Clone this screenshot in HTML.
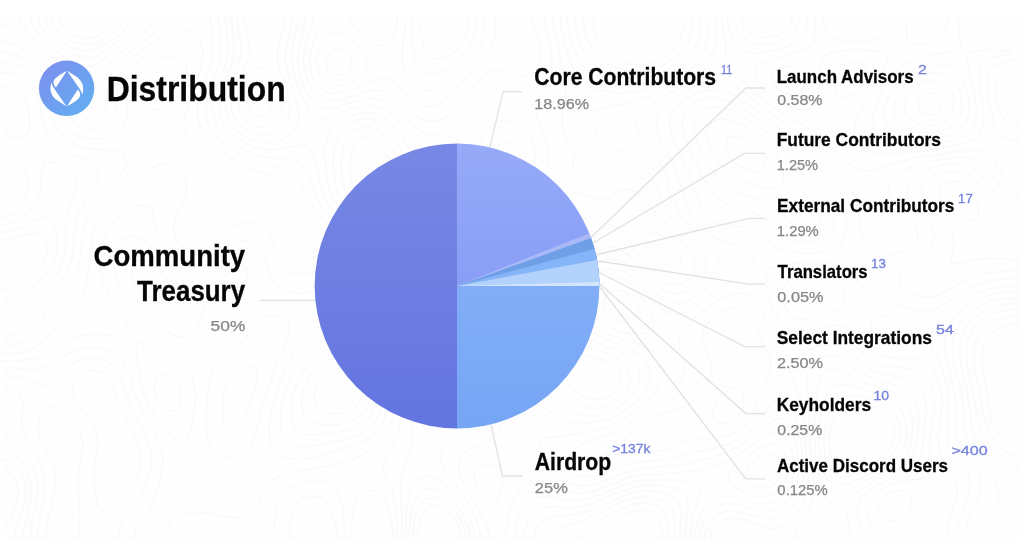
<!DOCTYPE html>
<html lang="en">
<head>
<meta charset="utf-8">
<title>Distribution</title>
<style>
html,body{margin:0;padding:0;background:#fff;}
body{width:1024px;height:553px;overflow:hidden;position:relative;font-family:"Liberation Sans",sans-serif;}
svg{position:absolute;left:0;top:0;display:block;}
text{font-family:"Liberation Sans",sans-serif;}
.b{font-weight:700;fill:#060606;stroke:#060606;stroke-width:0.3;}
.p{font-weight:400;fill:#878787;stroke:#878787;stroke-width:0.25;font-size:14px;}
.s{font-weight:400;fill:#7583dc;stroke:#7583dc;stroke-width:0.3;font-size:12px;}
.l{fill:none;stroke:#e2e2e2;stroke-width:1.3;}
.t{fill:none;stroke:#f4f4f4;stroke-width:1.2;}
</style>
</head>
<body>
<svg width="1024" height="553" viewBox="0 0 1024 553">
<defs>
<linearGradient id="gT" x1="0" y1="0" x2="0" y2="1"><stop offset="0" stop-color="#7788e4"/><stop offset="1" stop-color="#6474e0"/></linearGradient>
<linearGradient id="gA" x1="0" y1="0" x2="0" y2="1"><stop offset="0" stop-color="#82aef7"/><stop offset="1" stop-color="#76a5f5"/></linearGradient>
<linearGradient id="gC" x1="0" y1="0" x2="0" y2="1"><stop offset="0" stop-color="#96aaf8"/><stop offset="1" stop-color="#889ef5"/></linearGradient>
<linearGradient id="gL" x1="0" y1="0" x2="1" y2="1"><stop offset="0" stop-color="#7f8cee"/><stop offset="1" stop-color="#5fb2f2"/></linearGradient>
</defs>
<rect width="1024" height="553" fill="#ffffff"/>
<rect x="3" y="15" width="1018" height="525" fill="#fefefe"/>

<!-- faint topo background -->
<g id="topo" fill="none" stroke="#f8f8f8" stroke-width="1" stroke-linejoin="round">
<polyline points="593,15 594,27 596,35 600,43 606,51 612,56 620,61 628,64 640,65 652,63 660,60 668,55 672,51 678,43 681,35 684,23"/>
<polyline points="934,115 940,111 942,99 936,93 924,94 919,99 919,111 926,115 934,115"/>
<polyline points="1020,324 1008,325 1000,328 992,333 987,339 983,347 982,359 983,371 985,379 987,391 988,399 990,411 992,422 996,431 1000,437 1006,443 1013,447"/>
<polyline points="663,539 661,527 658,519 652,513 644,510 634,511 624,514 616,518 609,523 604,527 597,535"/>
<polyline points="58,15 60,23 66,31 72,35 84,39 96,37 104,33 111,27 116,20"/>
<polyline points="583,15 584,25 586,35 589,43 594,51 600,58 607,63 614,67 624,70 632,72 644,71 652,69 660,67 668,63 676,57 682,51 688,43 691,35 692,27 693,15"/>
<polyline points="942,123 948,119 953,111 954,99 951,91 944,84 936,81 924,82 916,86 911,91 906,99 905,111 910,119 916,123 928,126 940,124"/>
<polyline points="267,115 272,108 272,99 269,91 264,86 255,87 249,95 247,103 250,111 256,116 267,115"/>
<polyline points="388,199 392,193 394,183 392,171 390,163 386,155 381,147 376,141 368,137 360,139 354,147 351,155 350,167 351,179 353,187 359,195 364,199 376,203 388,199"/>
<polyline points="1020,316 1008,317 999,319 990,323 984,328 979,335 975,343 974,355 974,367 976,375 979,387 980,395 982,407 984,417 987,427 990,435 996,443 1000,448 1008,453 1016,456"/>
<polyline points="0,533 5,527 11,519 14,511 17,503 19,491 16,480 12,474 4,469"/>
<polyline points="669,539 669,527 667,519 663,511 656,505 646,503 640,503 628,506 620,509 612,513 604,518 596,523 589,527 584,531 577,539"/>
<polyline points="461,539 460,531 456,521 452,515 444,508 436,505 428,507 422,515 419,523 417,535"/>
<polyline points="51,15 53,23 58,31 64,37 72,42 80,44 92,44 100,41 108,37 115,31 120,26 124,17"/>
<polyline points="575,15 576,27 577,35 580,43 584,52 589,59 596,66 604,71 612,74 620,77 632,78 644,77 654,75 664,71 672,67 678,63 684,59 692,51 696,46 700,35 701,27 701,15"/>
<polyline points="267,127 275,123 280,116 282,107 281,95 278,87 274,79 269,71 260,67 252,74 248,79 243,87 239,95 238,107 241,115 248,123 256,127 264,128"/>
<polyline points="941,131 950,127 956,123 961,115 962,103 960,92 956,84 952,79 944,74 932,72 920,75 912,79 907,83 900,91 896,99 894,107 896,117 900,123 908,129 916,132 928,133 940,131"/>
<polyline points="387,211 395,207 400,201 403,191 403,179 400,167 397,159 394,151 389,143 384,136 379,131 370,127 362,127 353,131 348,137 344,145 342,155 341,167 342,179 344,187 348,195 355,203 360,207 371,211 380,212"/>
<polyline points="558,247 564,242 568,233 568,227 563,219 552,216 542,219 536,225 535,235 538,243 544,248 556,248"/>
<polyline points="1020,309 1008,310 1000,312 990,315 983,319 976,325 972,331 968,341 966,351 967,363 968,371 971,383 973,391 975,403 976,411 979,423 981,431 985,439 990,447 996,454 1003,459 1009,463 1020,466"/>
<polyline points="14,539 16,529 19,519 22,511 24,503 25,491 24,481 20,472 16,467 8,461 0,459"/>
<polyline points="466,539 464,529 460,519 456,512 452,507 444,500 436,497 425,499 420,505 416,515 414,523 413,535"/>
<polyline points="675,539 675,527 674,515 671,507 664,501 656,498 644,497 632,498 624,501 616,505 608,509 600,513 592,517 584,520 575,523 564,526 556,528 548,535"/>
<polyline points="45,15 48,26 52,32 59,39 64,43 72,48 84,51 96,49 104,45 112,40 119,35 124,30 129,23"/>
<polyline points="244,15 245,23 247,35 249,43 250,55 247,63 243,71 239,79 235,87 232,97 231,107 233,115 238,123 244,129 252,133 260,135 270,135 279,131 284,127 289,119 290,107 288,95 286,87 283,79 280,70 277,59 278,47 280,39 284,27 285,19"/>
<polyline points="567,15 568,25 570,35 572,43 576,54 580,62 584,67 592,74 600,79 608,82 616,84 628,85 640,84 648,83 659,79 668,75 676,71 683,67 689,63 696,58 703,51 707,43 708,35 709,23"/>
<polyline points="929,139 940,137 949,135 957,131 964,125 968,118 969,107 968,95 966,87 962,79 957,71 952,67 940,64 928,64 918,67 910,71 904,75 897,83 892,90 888,97 885,107 885,119 889,127 896,133 904,136 916,139 924,139"/>
<polyline points="390,219 400,215 404,211 409,203 412,195 413,183 412,175 408,164 404,155 400,147 396,141 392,135 385,127 380,123 372,119 361,119 352,122 345,127 340,133 336,142 334,151 333,163 334,175 336,187 339,195 344,202 348,207 356,213 364,216 374,219 384,220"/>
<polyline points="553,351 552,340 551,331 549,319 548,311 546,299 544,288 544,283 549,275 556,269 563,263 568,258 574,251 579,243 582,235 584,227 583,219 578,211 572,207 560,203 548,204 540,207 532,211 525,219 521,227 521,239 524,249 528,258 532,267 534,275 528,283 523,287 516,292 508,299 504,305 500,315 502,327 506,335 512,343 517,347 525,351 536,354 548,354"/>
<polyline points="679,271 682,263 680,255 674,247 668,241 661,235 652,232 645,239 648,251 652,258 656,263 664,270 672,273"/>
<polyline points="429,339 436,332 440,326 444,316 444,307 440,300 432,295 427,295 418,299 412,307 410,315 411,327 415,335 420,340 429,339"/>
<polyline points="1020,303 1008,304 996,306 988,309 980,313 972,319 968,324 964,331 960,343 960,351 960,359 962,371 964,379 967,391 968,399 970,411 971,423 973,431 976,439 981,447 987,455 992,460 999,467 1004,471 1012,476"/>
<polyline points="603,399 612,395 617,391 621,383 620,373 616,367 608,362 600,359 588,356 576,355 564,356 560,363 562,371 566,379 571,387 576,392 584,397 592,400 603,399"/>
<polyline points="22,539 24,528 26,519 28,511 31,499 31,487 29,475 25,467 20,460 14,455 7,451"/>
<polyline points="470,539 468,527 465,519 461,511 456,504 452,499 444,492 436,488 424,489 418,495 414,503 412,511 410,523 409,535"/>
<polyline points="680,539 680,531 681,519 680,508 676,499 670,495 660,492 652,491 642,491 632,493 624,495 616,499 607,503 599,507 589,511 580,514 572,515 560,516 548,518 540,522 536,528 533,539"/>
<polyline points="38,15 40,24 44,31 51,39 56,44 64,50 72,54 80,57 92,57 100,54 108,49 116,43 122,39 128,33 133,27 137,19"/>
<polyline points="237,15 238,27 240,37 241,47 240,59 238,67 234,75 230,83 227,91 225,103 227,115 230,123 236,130 242,135 250,139 260,142 272,142 283,139 290,135 296,128 299,119 298,107 296,99 292,87 289,79 287,71 285,59 286,47 288,39 291,27 292,19"/>
<polyline points="560,15 561,27 564,39 566,47 568,55 572,66 576,74 580,79 588,85 596,89 605,91 616,93 628,93 640,91 648,89 656,86 664,83 672,79 680,75 688,71 696,66 704,61 711,55 715,47 716,39 716,31 715,19"/>
<polyline points="823,15 824,24 828,33 836,39 844,41 856,41 868,41 876,39 885,35 892,27 895,19"/>
<polyline points="958,15 959,27 960,37 962,47 956,52 944,53 932,55 924,56 914,59 906,63 900,67 893,75 888,81 884,88 880,95 876,104 873,115 874,127 879,135 884,139 895,143 904,145 916,145 928,145 940,143 948,141 956,139 965,135 972,128 976,119 976,111 976,103 974,91 972,83 969,71 967,63 968,52 976,51 988,50 1000,50 1012,50"/>
<polyline points="794,95 802,91 805,83 804,74 798,67 788,66 780,68 772,75 772,80 776,87 784,93 792,95"/>
<polyline points="389,227 400,225 408,220 413,215 417,207 420,199 423,187 422,175 420,167 416,159 411,151 406,143 401,135 396,129 391,123 384,117 376,113 364,112 352,115 344,119 338,123 332,128 328,135 325,147 325,159 326,171 328,183 330,191 333,199 339,207 344,212 352,218 360,222 368,224 380,227 388,227"/>
<polyline points="437,419 444,415 447,403 444,394 440,383 438,375 438,363 441,355 445,347 450,339 456,331 460,326 468,320 472,319 480,324 485,331 491,339 496,346 500,351 508,358 515,363 523,367 532,370 540,374 548,379 552,383 560,391 564,395 572,401 580,406 588,408 600,408 608,405 616,401 624,395 628,389 631,379 628,368 624,363 616,358 608,354 600,351 589,347 580,344 572,339 568,334 564,327 561,315 560,307 560,298 562,287 566,279 571,271 576,264 580,259 586,251 592,243 596,237 601,231 608,224 618,227 624,233 628,239 633,247 639,255 644,262 648,267 656,275 660,279 668,284 680,285 688,280 693,275 695,263 692,255 686,247 680,240 676,235 668,227 664,222 657,215 652,209 647,203 640,195 635,191 624,189 616,193 608,199 601,199 592,197 584,194 572,192 560,192 548,194 540,197 532,201 524,206 519,211 513,219 510,227 509,239 511,251 511,263 508,273 503,279 496,286 490,291 484,296 476,301 468,299 460,293 452,287 445,283 436,280 424,280 416,284 409,291 404,298 400,307 398,315 399,327 402,335 406,343 410,351 413,359 417,367 419,379 420,388 421,399 424,411 428,417 436,419"/>
<polyline points="1020,298 1008,298 1000,299 988,302 980,306 972,311 967,315 960,323 956,330 953,339 953,351 954,363 956,371 959,383 961,391 963,403 963,415 964,424 966,435 969,443 974,451 980,459 984,464 989,471 994,479 998,487 999,499 992,507 988,511 981,519 977,527 975,535"/>
<polyline points="30,539 31,527 33,519 35,507 37,499 38,487 36,475 33,467 29,459 24,453 19,447 12,441 4,436"/>
<polyline points="770,487 776,483 780,475 780,463 776,456 768,454 760,457 752,463 748,467 745,479 752,486 760,488 770,487"/>
<polyline points="475,539 473,527 470,519 467,511 462,503 456,496 452,491 444,483 438,479 428,475 417,479 412,486 409,495 408,503 406,515 406,527 405,539"/>
<polyline points="685,539 686,527 687,515 688,507 687,499 681,491 672,487 664,486 652,485 640,486 632,488 622,491 612,495 604,499 596,502 588,505 578,507 568,508 558,507 548,507 540,508 532,514 528,520 525,531 524,539"/>
<polyline points="30,15 32,23 36,31 43,39 48,44 56,51 62,55 68,60 76,64 84,67 92,66 100,62 108,56 114,51 120,46 128,40 134,35 140,28 144,21"/>
<polyline points="231,15 232,26 233,35 234,47 233,59 231,67 228,75 224,84 220,95 219,103 220,114 223,123 228,130 233,135 240,140 248,145 256,148 268,150 280,149 291,147 300,145 309,147 313,155 316,165 318,175 320,184 324,195 328,203 332,209 338,215 344,220 352,225 360,229 368,231 380,234 388,235 400,235 408,233 416,227 420,222 424,214 428,206 432,196 435,187 437,179 438,167 434,159 428,153 422,147 416,141 410,135 404,128 400,123 392,115 388,111 380,107 368,105 356,107 348,110 340,113 332,117 324,119 316,119 309,111 305,103 301,95 298,87 295,79 293,67 292,59 292,51 294,39 296,31 299,19"/>
<polyline points="553,15 554,27 556,37 558,47 560,56 562,67 564,77 565,87 566,99 564,107 562,119 563,131 566,139 570,147 574,155 573,167 568,172 560,177 552,182 544,186 536,190 528,195 521,199 515,203 508,209 503,215 499,223 497,235 497,247 496,255 492,265 486,271 477,275 468,275 460,274 452,271 440,267 432,265 420,267 413,271 408,276 403,283 397,291 393,299 390,307 389,319 392,331 395,339 398,347 402,355 404,363 407,375 408,384 409,395 409,407 410,419 412,431 412,439 412,448 408,459 404,467 402,475 401,487 401,499 402,511 402,523 402,535"/>
<polyline points="481,539 480,531 476,519 472,511 468,503 464,497 460,491 454,483 448,475 444,469 440,460 440,453 444,446 452,440 460,435 467,431 473,427 479,419 481,411 480,403 475,395 468,388 464,383 459,375 458,363 460,355 468,349 478,351 484,357 489,363 496,370 502,375 511,379 520,382 528,384 536,387 544,392 552,398 558,403 564,407 572,412 582,415 592,416 600,415 612,411 619,407 625,403 632,396 636,391 640,381 640,372 636,364 631,359 624,354 616,350 608,347 598,343 590,339 583,335 576,328 572,320 570,311 570,299 572,289 576,279 580,273 584,267 591,259 596,254 604,248 612,247 620,249 628,255 632,259 639,267 644,272 651,279 656,284 664,291 672,294 684,293 692,289 699,283 704,276 707,267 704,257 700,251 693,243 688,237 682,231 676,223 672,218 668,211 663,203 660,195 656,186 652,177 648,171 640,163 635,159 628,155 619,151 610,147 604,143 597,135 593,127 590,119 595,111 604,108 612,106 624,104 632,102 642,99 652,95 660,91 668,87 676,83 684,79 692,75 700,71 708,68 716,64 724,59 726,51 725,39 723,31 722,19"/>
<polyline points="815,15 815,27 814,39 810,47 801,51 792,54 784,56 772,59 764,62 756,67 754,75 758,83 764,90 769,95 776,100 784,105 792,108 804,111 813,107 817,99 819,87 820,75 820,67 824,56 832,52 840,51 852,50 864,50 876,51 884,52 888,59 885,67 881,75 877,83 872,91 868,98 864,105 860,112 856,121 854,131 856,140 862,147 870,151 880,153 892,153 904,153 916,152 924,151 936,149 948,147 956,145 965,143 976,139 980,135 984,123 983,111 982,99 980,89 979,79 980,67 984,62 992,58 1004,55 1012,55"/>
<polyline points="948,15 947,27 944,35 936,41 928,44 916,45 908,43 906,31 907,19"/>
<polyline points="1020,292 1008,292 996,294 988,296 979,299 972,303 964,308 957,315 952,321 948,328 944,339 945,351 948,363 950,371 952,380 954,391 956,403 956,411 956,419 956,430 957,439 961,447 966,455 972,463 976,469 980,477 981,487 980,495 976,503 972,511 968,521 965,531"/>
<polyline points="109,511 116,506 122,499 128,492 132,486 136,478 140,467 141,459 140,449 137,439 132,431 128,423 124,416 121,407 118,399 116,391 112,383 106,375 100,371 88,370 80,374 75,379 72,387 73,395 77,403 83,411 88,417 92,423 96,431 98,443 97,455 95,463 94,475 94,487 96,499 98,507 104,512"/>
<polyline points="37,539 38,527 40,516 42,507 44,497 45,487 44,475 42,467 38,459 34,451 28,443 24,435 21,427 22,415 23,403 20,394 12,387 4,385"/>
<polyline points="773,495 780,490 785,483 788,473 788,464 786,455 781,447 772,443 762,447 755,451 748,456 740,462 734,467 728,474 728,483 734,487 742,491 752,495 760,497 772,495"/>
<polyline points="690,539 691,527 692,519 696,507 699,499 701,491 696,484 688,482 676,480 664,480 652,480 640,481 629,483 620,486 612,490 604,493 596,496 587,499 576,500 564,500 556,498 544,496 532,498 527,503 522,511 518,519 516,530 515,539"/>
<polyline points="337,539 336,528 334,519 332,511 328,503 320,497 308,496 300,499 293,507 291,515 290,527 290,539"/>
<polyline points="19,15 22,23 27,31 32,37 38,43 44,48 52,55 57,59 64,65 70,71 76,78 80,83 86,91 92,89 96,82 100,75 106,67 112,60 118,55 124,50 132,43 138,39 144,33 149,27 153,19"/>
<polyline points="225,15 226,27 227,39 228,51 226,63 223,71 220,79 216,89 213,99 213,111 216,123 220,129 225,135 232,142 239,147 247,151 256,154 264,157 276,158 287,159 296,161 303,167 308,175 311,183 314,191 318,199 322,207 328,214 332,219 340,226 348,231 356,234 364,237 372,240 384,243 392,246 400,251 402,259 400,267 396,275 391,283 387,291 382,299 379,307 380,319 382,327 385,335 389,343 393,351 396,360 399,371 400,379 401,391 401,403 401,415 400,423 398,435 394,443 390,451 385,459 383,467 385,475 389,483 392,491 395,503 396,511 397,523 397,535"/>
<polyline points="544,15 546,27 548,37 550,47 552,59 552,67 551,75 548,84 544,91 539,99 536,111 539,123 542,131 545,139 548,148 549,159 547,167 542,175 536,180 528,185 520,190 512,195 504,199 498,203 492,208 488,215 485,227 483,235 480,247 476,253 468,257 456,257 448,255 439,251 432,246 429,235 432,225 436,216 440,209 444,202 450,195 456,187 460,179 462,171 463,159 462,147 458,139 448,136 436,136 428,135 420,131 412,125 406,119 400,113 394,107 388,102 380,99 368,98 360,100 350,103 340,106 332,108 320,107 314,103 308,95 304,87 301,79 299,71 298,59 299,47 301,39 304,27 305,19"/>
<polyline points="808,15 806,27 803,35 796,42 788,46 780,49 772,51 760,53 748,53 740,48 736,43 731,35 728,23 727,15"/>
<polyline points="852,95 840,97 836,91 834,79 836,71 844,63 852,62 863,63 868,71 864,82 860,88 853,95"/>
<polyline points="1020,141 1008,139 1000,135 996,129 993,119 991,111 988,99 987,91 987,79 989,71 996,65 1004,62 1016,60"/>
<polyline points="489,539 488,531 484,520 480,512 476,504 472,498 468,491 463,483 460,475 458,463 462,455 468,450 476,447 484,443 492,438 498,431 502,423 506,415 510,407 516,402 528,401 536,404 544,408 552,413 560,418 568,422 576,423 588,423 596,422 608,419 616,416 624,411 630,407 636,402 642,395 647,387 650,379 649,367 644,359 640,355 632,351 624,347 614,343 605,339 597,335 591,331 584,324 580,316 578,307 579,295 581,287 585,279 591,271 596,266 604,260 612,259 620,260 628,265 634,271 640,276 646,283 652,289 658,295 664,300 672,303 682,303 692,299 698,295 704,290 711,283 716,278 720,271 720,259 716,253 709,247 704,242 696,235 692,231 686,223 680,215 676,207 673,199 670,191 668,183 664,171 660,163 656,157 651,151 645,143 640,136 636,127 636,123 640,115 648,108 654,103 660,99 668,94 676,90 684,85 692,81 700,78 711,75 720,73 732,75 740,79 745,83 752,90 758,95 764,100 772,106 779,111 786,115 792,119 800,123 808,128 816,133 824,139 828,143 835,151 840,156 848,163 854,167 862,171 872,171 880,169 888,165 896,163 908,160 916,158 928,156 936,155 948,153 959,151 968,150 980,151 988,154 993,159 998,167 1003,175 1008,181 1016,186"/>
<polyline points="168,303 172,295 170,287 166,279 160,272 155,267 148,262 136,260 131,267 132,279 136,287 140,292 148,299 156,303 164,304"/>
<polyline points="815,319 824,316 832,313 840,309 845,303 844,293 840,285 834,279 827,275 816,273 804,273 796,276 788,281 784,287 783,299 785,307 790,315 796,319 808,320"/>
<polyline points="1020,286 1008,286 999,287 988,289 980,292 972,295 964,300 956,306 950,311 944,316 937,323 932,330 929,339 932,347 936,355 940,364 944,375 946,383 948,391 949,403 948,415 948,423 947,435 948,443 952,452 957,459 963,467 968,475 970,483 968,495 965,503 962,511 959,519 957,531"/>
<polyline points="905,343 912,336 912,331 904,323 897,319 888,316 876,317 871,323 872,331 877,339 884,344 896,346 905,343"/>
<polyline points="117,539 120,527 124,520 128,514 133,507 138,499 143,491 146,483 149,475 152,463 151,451 148,439 144,431 140,424 136,417 132,409 128,399 125,391 123,383 119,375 114,367 108,362 100,359 88,358 80,360 72,364 64,371 59,375 52,383 44,386 34,383 24,379 16,377 4,375"/>
<polyline points="237,427 243,419 247,411 250,403 253,395 256,385 258,375 256,366 245,367 239,371 232,377 228,383 224,394 223,403 223,415 224,423 232,429"/>
<polyline points="46,539 47,527 48,519 51,507 53,499 55,487 56,475 52,463 48,455 44,447 40,439 38,431 40,419 44,411 48,407 56,407 64,413 71,419 76,425 80,432 83,443 82,455 80,464 78,475 78,487 79,499 80,510 80,517 79,527 79,539"/>
<polyline points="694,539 696,527 698,519 702,511 708,503 714,499 724,496 736,497 744,500 756,503 764,504 772,503 781,499 788,491 792,483 793,475 794,463 792,453 789,443 784,436 776,432 767,435 760,440 752,445 744,451 737,455 731,459 723,463 714,467 704,470 696,471 684,472 672,473 660,474 648,474 640,475 628,478 620,481 612,484 604,487 594,491 584,493 572,493 563,491 553,487 544,483 536,481 526,483 520,489 516,496 512,506 509,515 507,523 505,535"/>
<polyline points="345,539 344,527 344,519 343,507 340,495 336,487 330,483 320,481 308,481 300,483 291,487 284,492 280,499 276,510 275,519 274,531"/>
<polyline points="0,24 8,28 16,34 23,39 28,43 36,49 43,55 48,59 56,67 60,71 65,79 68,87 72,99 74,107 80,115 88,118 99,115 104,109 107,99 108,87 109,79 112,71 118,63 124,57 131,51 136,47 144,41 152,35 156,31 161,23"/>
<polyline points="218,15 219,27 220,35 221,47 220,58 218,67 215,75 212,83 208,94 206,103 206,115 208,123 213,131 219,139 224,143 232,150 240,155 248,159 256,162 264,164 274,167 284,170 292,175 296,179 302,187 306,195 311,203 316,210 320,215 327,223 332,228 340,234 348,239 356,243 364,246 372,249 380,253 385,259 385,271 381,279 376,287 372,292 367,299 364,307 366,315 370,323 375,331 379,339 384,347 387,355 390,363 393,371 394,383 395,395 394,407 392,419 390,427 386,435 380,442 374,447 368,451 360,456 352,460 342,463 332,465 323,467 312,469 300,471 292,472 282,475 273,479 268,485 264,492 260,502 256,509 250,515 240,518 228,517 219,515 208,513 196,512 184,514 176,518 170,523 167,531"/>
<polyline points="530,15 532,23 536,34 539,43 540,51 540,63 536,71 532,75 520,77 512,73 504,70 492,70 484,75 480,79 473,87 468,94 464,100 459,107 452,113 444,118 436,121 424,120 416,116 410,111 404,105 397,99 392,95 384,91 372,90 364,92 356,95 344,99 336,100 324,99 317,95 312,89 308,82 305,71 303,63 304,52 306,43 309,35 312,24 314,15"/>
<polyline points="800,15 799,23 795,31 788,37 780,41 772,44 760,45 750,43 744,39 738,31 735,23"/>
<polyline points="1020,128 1012,126 1004,119 1000,112 997,103 995,95 995,83 998,75 1004,70 1012,67"/>
<polyline points="699,539 700,531 704,520 708,514 716,507 724,504 736,504 747,507 756,509 768,511 780,508 786,503 792,496 796,488 798,479 799,467 798,455 796,445 793,435 790,427 784,419 776,419 769,423 764,427 756,434 750,439 744,443 736,448 728,452 720,455 708,459 700,460 688,463 680,465 668,466 660,467 648,468 636,470 628,472 618,475 609,479 600,482 592,485 580,486 569,483 562,479 556,473 551,467 546,459 542,451 540,443 544,438 556,437 567,435 576,434 588,432 596,430 606,427 616,423 624,419 630,415 636,410 644,403 649,399 656,391 660,384 663,375 662,363 657,355 652,350 644,346 634,343 624,340 616,337 608,334 600,329 593,323 588,315 586,307 587,295 590,287 595,279 600,273 608,269 620,270 628,274 634,279 640,285 645,291 652,299 656,304 664,311 672,315 684,313 692,309 700,303 705,299 712,294 720,288 728,283 734,279 742,275 750,271 755,263 750,255 744,250 736,246 728,243 718,239 711,235 704,230 697,223 692,217 688,210 684,199 682,191 680,183 676,171 673,163 669,155 664,147 660,139 657,131 656,123 658,115 664,107 668,103 676,97 684,92 692,88 700,85 708,83 720,82 728,84 736,87 744,93 752,99 757,103 764,108 772,114 779,119 785,123 792,128 800,135 804,139 812,147 816,151 824,159 828,163 836,170 841,175 848,183 852,189 856,197 858,207 859,219 860,230 863,239 868,246 875,251 884,254 896,254 905,251 912,247 918,239 916,227 912,221 906,215 900,210 893,203 889,195 888,190 892,180 897,175 904,170 912,167 924,163 932,161 943,159 952,158 964,157 973,159 981,163 988,170 992,175 998,183 1004,190 1012,195 1020,197"/>
<polyline points="504,187 492,189 484,186 480,179 478,167 478,155 480,144 483,135 488,128 495,123 504,120 516,122 523,127 528,134 532,141 535,151 535,163 530,171 524,177 516,182 508,186"/>
<polyline points="193,335 198,327 201,319 204,311 208,300 208,294 200,288 192,283 186,279 180,274 172,267 168,263 160,255 156,251 148,243 142,239 132,236 123,239 117,247 114,255 114,267 116,279 120,287 124,294 128,300 135,307 140,312 148,319 154,323 160,327 168,332 176,336 188,338"/>
<polyline points="242,287 247,279 246,267 240,263 232,266 228,271 223,279 224,289 236,290"/>
<polyline points="1020,279 1008,279 996,280 984,283 976,285 968,289 960,294 952,299 946,303 939,307 929,311 920,311 912,309 904,306 896,303 885,299 876,296 868,292 863,287 856,279 852,274 844,268 836,265 826,263 816,262 804,263 796,263 784,265 775,267 766,271 766,283 768,292 771,303 774,311 778,319 784,326 792,331 800,332 808,331 820,328 828,326 840,325 849,327 856,333 861,339 868,347 873,351 880,355 892,358 904,358 916,358 924,360 931,367 936,375 939,383 941,391 942,403 941,415 940,423 938,435 939,447 941,455 946,463 952,471 956,478 958,487 956,499 953,507 951,515 948,527 947,535"/>
<polyline points="237,459 247,455 252,447 254,439 256,431 259,419 261,411 264,403 268,391 271,383 273,375 276,367 280,356 284,347 286,339 289,331 288,322 280,316 272,315 264,316 257,323 252,329 248,335 241,343 236,347 228,353 220,358 215,363 211,371 209,383 208,392 207,403 206,415 206,427 208,439 211,447 216,452 224,457 232,459"/>
<polyline points="133,539 136,528 140,522 146,515 151,507 155,499 157,491 160,481 162,471 163,459 161,447 158,439 154,431 149,423 144,415 140,407 137,399 134,391 132,383 128,372 124,363 120,358 112,352 104,349 92,347 80,349 72,352 64,356 56,361 48,366 40,369 28,369 16,368 4,368"/>
<polyline points="492,504 485,499 480,492 476,485 474,475 478,467 488,463 499,467 503,475 502,487 500,496 496,503"/>
<polyline points="352,539 352,531 352,519 354,507 356,499 362,491 372,490 380,494 384,499 388,507 391,519 392,527 393,539"/>
<polyline points="902,519 908,514 912,507 912,497 904,491 897,491 888,494 881,499 877,507 880,516 888,521 900,520"/>
<polyline points="0,41 9,43 19,47 26,51 33,55 40,60 47,67 52,72 56,79 60,89 63,99 65,107 68,115 74,123 80,127 92,130 103,127 109,123 115,115 117,107 117,95 117,83 120,73 124,66 131,59 136,55 144,49 152,44 159,39 164,35 170,27 174,19"/>
<polyline points="210,15 211,27 212,35 213,47 212,59 210,67 207,75 204,84 200,95 198,103 197,115 200,126 204,133 209,139 216,146 222,151 228,156 236,161 244,165 252,169 260,172 268,175 276,179 284,184 291,191 296,197 300,203 306,211 312,218 316,223 324,231 328,235 336,243 342,247 348,251 356,256 364,262 365,271 360,277 352,281 342,283 332,285 324,288 314,291 304,293 292,293 284,291 276,286 271,279 268,270 265,259 261,251 256,244 248,240 236,242 228,247 223,251 216,258 209,263 200,267 188,265 180,260 174,255 168,248 164,243 159,235 156,227 153,215 152,207 140,205 132,208 124,213 116,219 112,223 107,231 103,239 101,251 101,263 101,275 104,285 108,294 112,301 116,307 121,315 126,323 129,331 124,336 112,336 103,335 92,335 84,335 72,337 64,341 56,347 51,351 44,355 34,359 24,360 12,361 0,361"/>
<polyline points="495,15 495,27 495,39 492,47 487,55 480,63 476,67 469,75 464,80 458,87 452,94 446,99 440,104 428,107 417,103 412,99 404,92 399,87 392,81 384,77 376,79 367,83 359,87 349,91 340,93 328,93 320,88 316,83 312,75 309,63 311,51 313,43 316,35 320,27 324,19"/>
<polyline points="349,15 353,23 359,31 364,35 372,42 380,46 388,43 394,35 396,27 398,15"/>
<polyline points="793,15 791,23 784,31 777,35 768,38 756,37 748,32 744,27 740,15"/>
<polyline points="828,251 816,253 804,253 792,252 784,250 776,247 768,241 760,235 754,231 744,227 736,226 724,225 716,223 708,217 703,211 699,203 696,195 692,183 690,175 686,167 683,159 679,151 675,143 672,135 669,123 672,114 676,107 684,100 692,95 700,92 708,90 720,90 728,92 736,96 744,101 752,107 757,111 764,116 772,121 779,127 784,131 792,138 796,143 803,151 808,156 814,163 820,169 826,175 832,182 836,187 841,195 844,205 846,215 846,227 844,239 840,246 832,250"/>
<polyline points="508,171 500,171 494,163 495,151 500,143 508,141 516,145 520,153 520,159 516,167 508,171"/>
<polyline points="1020,271 1008,271 996,272 984,273 976,276 968,279 960,283 952,288 944,292 936,296 924,297 915,295 907,291 900,285 899,275 904,270 912,265 920,259 925,255 932,247 935,239 932,227 928,221 923,215 916,208 911,203 906,195 908,183 912,178 920,173 928,169 936,167 948,164 960,164 971,167 977,171 984,178 988,183 994,191 1000,198 1007,203 1016,207"/>
<polyline points="648,333 636,334 624,333 616,330 608,326 600,319 596,312 594,303 596,293 600,286 608,279 616,278 624,280 632,286 637,291 643,299 648,307 652,314 655,323 652,331"/>
<polyline points="704,539 707,527 712,519 717,515 728,511 736,511 744,513 753,515 764,518 776,518 784,514 792,507 796,502 800,494 803,483 804,471 803,459 801,447 800,437 798,427 796,418 792,407 788,402 780,398 772,403 768,408 763,415 757,423 752,429 745,435 739,439 731,443 720,447 712,449 700,451 692,453 683,455 672,458 664,460 652,461 640,462 632,464 620,467 612,470 604,473 596,476 584,477 576,474 570,467 570,455 576,448 584,443 592,440 600,438 608,435 617,431 624,427 632,422 640,416 647,411 652,407 660,401 668,395 673,391 680,383 683,375 684,367 683,359 680,349 679,339 683,331 688,325 694,319 700,314 708,307 714,303 720,299 729,295 740,293 750,295 756,300 760,307 764,315 768,324 772,331 780,339 788,343 796,343 804,341 812,339 824,336 832,335 840,336 848,340 856,347 860,351 868,358 876,363 884,366 892,367 904,368 916,370 924,375 928,380 932,389 934,399 934,411 932,423 931,431 930,443 930,455 931,467 928,477 920,479 908,480 896,483 888,486 880,490 873,495 868,502 866,511 868,520 872,527 877,535"/>
<polyline points="300,459 288,459 280,457 273,451 270,443 269,431 270,419 272,410 275,399 277,391 280,383 284,373 288,364 292,357 296,350 301,343 308,335 312,331 320,326 332,323 340,323 348,324 356,327 364,333 370,339 376,347 380,354 384,363 386,371 388,379 389,391 388,403 387,411 384,421 380,428 374,435 368,439 360,443 350,447 340,450 332,452 323,455 312,458 303,459"/>
<polyline points="184,445 176,441 171,435 164,427 160,422 155,415 150,407 146,399 143,391 140,379 139,371 137,359 136,349 136,342 145,343 155,347 163,351 170,355 177,359 184,365 189,371 193,379 195,391 195,403 194,415 192,424 189,435 185,443"/>
<polyline points="484,15 484,27 483,35 480,45 476,52 471,59 464,67 460,71 452,79 446,83 440,87 428,91 418,87 412,81 407,75 403,67 402,55 403,43 404,35 406,23"/>
<polyline points="0,52 12,54 20,57 28,61 36,66 41,71 48,79 51,87 54,95 56,104 59,115 63,123 68,129 75,135 84,138 92,139 100,139 112,135 119,131 124,126 128,116 128,108 127,99 126,87 128,75 132,68 137,63 144,57 152,53 160,49 168,44 176,39 182,35 188,31 196,32 200,39 203,51 202,63 200,71 196,83 193,91 190,99 187,107 184,118 184,127 187,135 192,141 198,147 204,151 212,157 220,162 228,167 235,171 242,175 250,179 256,183 264,188 272,194 277,199 284,205 290,211 296,217 302,223 308,229 314,235 320,243 324,249 327,259 322,267 315,271 304,274 292,273 285,267 280,259 277,251 274,243 270,235 264,227 257,223 248,222 240,223 232,227 224,233 218,239 212,244 204,250 196,252 188,251 180,245 176,239 173,227 176,215 180,208 184,201 187,191 185,179 180,171 176,167 165,163 160,164 152,168 144,174 139,179 132,185 126,191 120,196 113,203 108,208 102,215 97,223 94,231 92,239 90,251 89,263 88,274 86,283 84,293 80,301 74,307 68,312 61,319 56,326 52,331 46,339 40,344 32,349 24,352 12,354 0,354"/>
<polyline points="348,84 336,86 326,83 320,76 317,67 317,55 320,46 325,39 332,33 344,34 351,39 356,43 363,51 367,59 365,71 360,76 352,82"/>
<polyline points="820,240 808,242 796,241 788,238 780,232 774,227 768,221 760,216 752,212 744,209 736,207 724,203 718,199 712,192 708,186 704,179 700,171 696,163 692,155 688,147 684,137 682,127 683,115 688,108 694,103 703,99 712,97 724,99 732,102 740,107 746,111 752,115 760,120 768,126 775,131 780,136 787,143 792,149 796,155 802,163 808,170 812,175 820,183 824,188 829,195 832,203 834,215 833,227 828,235 823,239"/>
<polyline points="1020,260 1008,259 1000,259 988,258 980,259 968,261 960,264 950,263 953,255 954,243 952,235 947,227 941,219 936,213 930,207 924,200 921,191 924,183 932,177 940,173 952,171 964,173 972,177 978,183 984,191 988,197 992,203 999,211 1004,215 1013,219"/>
<polyline points="628,323 620,322 612,318 606,311 604,303 606,295 612,290 624,291 629,295 636,303 639,311 636,321 628,323"/>
<polyline points="612,455 603,455 608,451 616,446 624,440 630,435 636,430 644,425 652,419 660,415 668,412 676,410 685,407 692,402 699,395 704,389 708,382 712,371 712,366 708,355 705,347 702,339 704,330 708,322 715,315 721,311 732,307 736,307 746,311 752,319 756,327 759,335 763,343 767,351 771,359 770,371 766,379 763,387 760,396 756,407 753,415 748,422 743,427 736,432 728,436 716,438 704,439 696,439 684,442 676,445 668,449 659,451 648,452 636,453 624,453 614,455"/>
<polyline points="304,447 296,447 288,443 282,435 280,425 280,419 282,407 284,397 287,387 290,379 294,371 299,363 304,356 308,351 316,344 324,340 332,337 344,336 355,339 362,343 368,349 373,355 377,363 380,371 383,383 383,395 382,407 379,415 374,423 368,429 360,434 352,437 344,440 332,442 324,444 312,446 304,447"/>
<polyline points="711,539 712,531 718,523 725,519 736,518 744,519 754,523 763,527 772,529 781,527 788,522 795,515 800,508 804,501 807,491 808,483 808,471 808,463 806,451 805,439 804,427 803,419 802,407 800,399 796,388 792,379 790,371 792,363 800,356 808,351 816,347 824,345 836,345 844,349 852,355 857,359 864,365 872,370 880,373 889,375 900,377 908,379 916,383 922,391 925,399 926,411 925,423 924,435 923,443 921,455 918,463 912,469 904,473 896,476 888,480 880,483 872,488 864,495 860,500 857,511 859,523 862,531"/>
<polyline points="176,411 168,411 160,403 156,395 154,387 156,377 164,373 172,377 177,383 181,391 181,403 176,411"/>
<polyline points="476,15 476,23 474,35 471,43 467,51 460,59 456,63 448,69 440,73 428,73 420,68 416,61 413,51 413,39 413,27 413,15"/>
<polyline points="344,75 332,75 328,71 326,59 330,51 340,48 348,52 352,59 352,68 344,75"/>
<polyline points="164,109 152,110 144,105 140,99 136,87 139,75 144,68 152,63 160,59 168,57 180,57 186,63 187,75 184,84 180,92 176,99 168,106"/>
<polyline points="0,62 9,63 20,66 28,70 34,75 40,82 44,90 47,99 49,107 52,118 56,127 60,133 66,139 72,143 81,147 92,149 104,150 116,150 124,152 127,163 123,171 118,179 112,186 107,191 101,199 96,205 92,211 87,219 84,230 82,239 81,251 80,260 77,271 73,279 68,287 64,291 57,299 52,304 47,311 43,319 38,327 33,335 28,339 20,343 8,346"/>
<polyline points="812,228 800,228 792,224 786,219 780,213 773,207 766,203 757,199 748,196 740,193 732,189 724,183 719,179 713,171 708,164 704,157 700,150 696,140 694,131 695,119 700,112 708,107 716,107 724,108 732,111 740,115 748,120 756,125 764,130 770,135 776,141 781,147 787,155 792,163 796,170 800,177 805,183 812,191 816,197 820,206 821,215 818,223 812,228"/>
<polyline points="976,220 964,219 956,215 951,211 944,204 940,199 940,187 944,183 956,181 964,184 972,191 976,199 979,207 978,219"/>
<polyline points="316,435 308,435 297,431 292,423 291,415 291,403 293,395 296,386 300,377 304,370 310,363 316,357 324,351 332,348 340,347 348,347 358,351 364,356 370,363 374,371 376,379 377,391 376,403 373,411 368,419 363,423 356,427 345,431 336,433 324,434 316,435"/>
<polyline points="793,539 796,530 801,523 806,515 810,507 813,499 814,487 813,475 812,463 811,455 810,443 810,431 809,419 809,407 808,395 807,387 807,375 810,367 816,360 824,356 836,356 844,360 852,366 859,371 866,375 876,379 884,382 892,384 902,387 909,391 915,399 918,407 919,419 918,431 917,443 915,451 911,459 904,465 896,470 888,474 880,478 872,482 865,487 859,491 852,499 848,507 847,515 848,523 851,535"/>
<polyline points="728,424 716,423 712,416 712,411 716,403 722,395 728,390 736,387 742,391 744,399 744,407 740,415 732,422"/>
<polyline points="469,15 468,24 466,35 462,43 456,51 451,55 442,59 434,59 428,55 424,47 421,35 421,23"/>
<polyline points="0,72 12,74 20,77 28,82 32,87 37,95 40,106 42,115 44,123 48,133 52,139 60,147 66,151 73,155 83,159 92,163 97,167 98,179 94,187 89,195 84,203 80,211 77,219 75,227 74,239 73,251 72,259 68,269 64,276 59,283 52,290 47,295 40,303 36,308 32,315 27,323 20,331 13,335 4,338"/>
<polyline points="780,188 768,188 760,187 748,183 740,180 732,175 727,171 720,164 716,158 712,150 708,139 707,131 711,123 720,119 724,119 736,123 744,126 752,131 759,135 764,139 772,147 776,153 780,161 783,171 784,179 781,187"/>
<polyline points="0,218 12,215 17,211 24,203 27,195 28,183 25,171 20,163 16,159 8,154"/>
<polyline points="340,424 328,425 316,424 308,420 304,415 301,403 303,391 306,383 311,375 316,369 323,363 331,359 340,357 352,359 359,363 364,368 368,376 370,387 370,399 367,407 361,415 355,419 344,423"/>
<polyline points="832,504 826,499 823,491 820,480 818,471 816,459 815,451 815,439 815,427 815,415 816,407 817,395 818,383 821,375 828,369 840,370 848,374 856,378 864,382 872,385 880,388 890,391 898,395 904,399 909,407 912,418 913,427 912,436 910,447 906,455 900,461 892,467 884,471 876,475 869,479 861,483 855,487 848,492 840,498 832,503"/>
<polyline points="0,85 10,87 18,91 24,98 28,107 29,115 30,127 28,135 16,137 5,135"/>
<polyline points="760,172 750,171 741,167 735,163 729,155 726,147 728,137 740,136 748,139 756,144 762,151 766,159 764,170"/>
<polyline points="0,226 12,223 20,219 26,215 32,208 36,202 40,191 41,183 42,171 44,163 56,162 64,166 72,171 76,175 77,187 74,195 71,203 68,213 66,223 66,235 66,247 64,257 60,267 56,274 52,279 44,287 40,291 32,298 27,303 20,311 16,316 8,322 0,325"/>
<polyline points="348,412 336,414 324,413 316,407 314,399 316,387 320,380 325,375 332,370 344,368 353,371 360,379 362,387 361,399 356,407 350,411"/>
<polyline points="848,484 836,486 828,480 824,472 822,463 820,454 819,443 819,431 820,423 822,411 824,403 828,392 832,387 844,384 855,387 864,390 872,392 880,395 889,399 896,403 902,411 905,419 907,431 905,443 901,451 896,458 889,463 883,467 875,471 867,475 859,479 849,483"/>
<polyline points="0,233 10,231 20,228 28,224 36,220 44,217 52,220 56,230 57,239 57,251 55,259 51,267 45,275 40,280 32,287 27,291 20,296 12,301 4,305"/>
<polyline points="852,476 840,477 832,472 828,465 825,455 824,447 824,437 825,427 828,415 831,407 836,400 844,396 856,396 868,398 876,401 884,404 892,410 896,415 900,425 901,435 899,443 895,451 888,458 881,463 874,467 865,471 856,475"/>
<polyline points="0,240 8,239 20,236 28,234 40,234 45,239 48,251 44,263 40,269 34,275 28,280 20,285 12,288 0,291"/>
<polyline points="860,468 848,470 838,467 832,459 830,451 829,439 831,427 834,419 839,411 844,407 856,404 868,406 876,408 884,413 890,419 894,427 894,439 891,447 884,455 879,459 872,463 862,467"/>
</g>

<!-- leader lines -->
<g id="lines">
<polyline class="l" points="489.7,148 503.1,91.7 522,91.7"/>
<polyline class="l" points="590,238.5 745.8,88 765,88"/>
<polyline class="l" points="593,243 744.5,153.4 765,153.4"/>
<polyline class="l" points="595.5,255 748.6,218.4 765,218.4"/>
<polyline class="l" points="598,261 748.6,284.2 765,284.2"/>
<polyline class="l" points="599,272.5 744.6,346.7 765,346.7"/>
<polyline class="l" points="599.5,283.5 745.8,413.6 765,413.6"/>
<polyline class="l" points="599.5,286.5 745.8,478.9 765,478.9"/>
<polyline class="l" points="491,424.5 502.5,476 522.4,476"/>
<polyline class="l" points="259.5,300.3 316,300.3"/>
</g>

<!-- pie -->
<g id="pie">
<path d="M457.0 143.60A142.4 142.4 0 0 0 457.0 428.40Z" fill="url(#gT)"/>
<path d="M457.0 286.0L599.40 286.0A142.4 142.4 0 0 1 457.0 428.40Z" fill="url(#gA)"/>
<path d="M457.0 286.0L457.0 143.60A142.4 142.4 0 0 1 599.40 286.0Z" fill="url(#gC)"/>
<path d="M457.0 286.0L589.27 233.25A142.4 142.4 0 0 1 599.40 286.0Z" fill="#a9b9f8"/>
<path d="M457.0 286.0L591.10 238.10A142.4 142.4 0 0 1 599.40 286.0Z" fill="#6f9fe6"/>
<path d="M457.0 286.0L594.45 248.77A142.4 142.4 0 0 1 599.40 286.0Z" fill="#85b4f8"/>
<path d="M457.0 286.0L597.01 260.02A142.4 142.4 0 0 1 599.40 286.0Z" fill="#b3d2fb"/>
<path d="M457.0 286.0L599.34 281.90A142.4 142.4 0 0 1 599.40 286.0Z" fill="#d3e5fd"/>
</g>

<!-- logo -->
<g id="logo">
<circle cx="66.6" cy="88.3" r="27.7" fill="url(#gL)"/>
<g transform="translate(50.4,71) scale(0.163,0.152)" fill="#ffffff">
<path d="M98.3592 2.80337L34.8353 107.327C34.3371 108.147 33.1797 108.238 32.5617 107.505C26.9693 100.864 6.13478 72.615 31.9154 46.8673C55.4403 23.3726 85.4045 6.62129 96.5096 0.831705C97.7695 0.174847 99.0966 1.59007 98.3592 2.80337Z"/>
<path d="M94.8459 230.385C96.1137 231.273 97.6758 229.759 96.8261 228.467C82.6374 206.886 35.4713 135.081 28.9559 124.302C22.5295 113.67 9.88976 96.001 8.83534 80.8842C8.7301 79.3751 6.64332 79.0687 6.11838 80.4879C5.27178 82.7767 4.37045 85.5085 3.53042 88.6292C-7.07427 128.023 8.32698 169.826 41.7753 193.238L94.8459 230.385Z"/>
<path d="M103.571 228.526L167.095 124.003C167.593 123.183 168.751 123.092 169.369 123.825C174.961 130.466 195.796 158.715 170.015 184.463C146.49 207.957 116.526 224.709 105.421 230.498C104.161 231.155 102.834 229.74 103.571 228.526Z"/>
<path d="M107.154 0.930762C105.886 0.0433954 104.324 1.5567 105.174 2.84902C119.363 24.4301 166.529 96.2354 173.044 107.014C179.471 117.646 192.11 135.315 193.165 150.432C193.27 151.941 195.357 152.247 195.882 150.828C196.728 148.539 197.63 145.808 198.47 142.687C209.074 103.293 193.673 61.4905 160.225 38.078L107.154 0.930762Z"/>
</g>
</g>

<!-- text -->
<g id="txt">
<text class="b" x="106.66" y="100.8" font-size="34.5" textLength="179.03" lengthAdjust="spacingAndGlyphs">Distribution</text>
<text class="b" x="93.54" y="266.0" font-size="30" textLength="151.63" lengthAdjust="spacingAndGlyphs">Community</text>
<text class="b" x="137.07" y="300.5" font-size="30" textLength="108.07" lengthAdjust="spacingAndGlyphs">Treasury</text>
<text class="p" x="210.60" y="331.4" font-size="14.5" textLength="34.79" lengthAdjust="spacingAndGlyphs">50%</text>
<text class="b" x="534.33" y="85.2" font-size="23.5" textLength="181.74" lengthAdjust="spacingAndGlyphs">Core Contributors</text>
<text class="s" x="721.06" y="73.5" font-size="12.5" textLength="11.19" lengthAdjust="spacingAndGlyphs">11</text>
<text class="p" x="534.28" y="108.8" font-size="14.5" textLength="54.72" lengthAdjust="spacingAndGlyphs">18.96%</text>
<text class="b" x="534.74" y="470.0" font-size="23.5" textLength="76.46" lengthAdjust="spacingAndGlyphs">Airdrop</text>
<text class="s" x="612.15" y="452.5" font-size="12.5" textLength="38.35" lengthAdjust="spacingAndGlyphs">&gt;137k</text>
<text class="p" x="534.89" y="493.4" font-size="14.5" textLength="32.87" lengthAdjust="spacingAndGlyphs">25%</text>
<text class="b" x="776.72" y="82.5" font-size="19" textLength="136.90" lengthAdjust="spacingAndGlyphs">Launch Advisors</text>
<text class="s" x="918.12" y="73.7" font-size="12.5" textLength="8.85" lengthAdjust="spacingAndGlyphs">2</text>
<text class="p" x="777.33" y="105.4" font-size="14.5" textLength="45.21" lengthAdjust="spacingAndGlyphs">0.58%</text>
<text class="b" x="776.66" y="146.3" font-size="19" textLength="164.31" lengthAdjust="spacingAndGlyphs">Future Contributors</text>
<text class="p" x="776.74" y="169.8" font-size="14.5" textLength="41.35" lengthAdjust="spacingAndGlyphs">1.25%</text>
<text class="b" x="777.08" y="212.3" font-size="19" textLength="177.33" lengthAdjust="spacingAndGlyphs">External Contributors</text>
<text class="s" x="958.11" y="202.6" font-size="12.5" textLength="14.56" lengthAdjust="spacingAndGlyphs">17</text>
<text class="p" x="776.86" y="235.9" font-size="14.5" textLength="41.88" lengthAdjust="spacingAndGlyphs">1.29%</text>
<text class="b" x="777.61" y="278.0" font-size="19" textLength="90.01" lengthAdjust="spacingAndGlyphs">Translators</text>
<text class="s" x="871.04" y="268.2" font-size="12.5" textLength="14.90" lengthAdjust="spacingAndGlyphs">13</text>
<text class="p" x="777.31" y="301.5" font-size="14.5" textLength="46.29" lengthAdjust="spacingAndGlyphs">0.05%</text>
<text class="b" x="776.74" y="344.0" font-size="19" textLength="155.20" lengthAdjust="spacingAndGlyphs">Select Integrations</text>
<text class="s" x="936.08" y="334.1" font-size="12.5" textLength="17.70" lengthAdjust="spacingAndGlyphs">54</text>
<text class="p" x="776.96" y="367.5" font-size="14.5" textLength="45.96" lengthAdjust="spacingAndGlyphs">2.50%</text>
<text class="b" x="776.66" y="411.1" font-size="19" textLength="94.47" lengthAdjust="spacingAndGlyphs">Keyholders</text>
<text class="s" x="873.50" y="400.1" font-size="12.5" textLength="15.55" lengthAdjust="spacingAndGlyphs">10</text>
<text class="p" x="777.34" y="434.8" font-size="14.5" textLength="44.94" lengthAdjust="spacingAndGlyphs">0.25%</text>
<text class="b" x="776.89" y="472.1" font-size="19" textLength="171.21" lengthAdjust="spacingAndGlyphs">Active Discord Users</text>
<text class="s" x="951.47" y="454.7" font-size="12.5" textLength="36.10" lengthAdjust="spacingAndGlyphs">&gt;400</text>
<text class="p" x="777.38" y="495.2" font-size="14.5" textLength="50.36" lengthAdjust="spacingAndGlyphs">0.125%</text>
</g>
</svg>
</body>
</html>
